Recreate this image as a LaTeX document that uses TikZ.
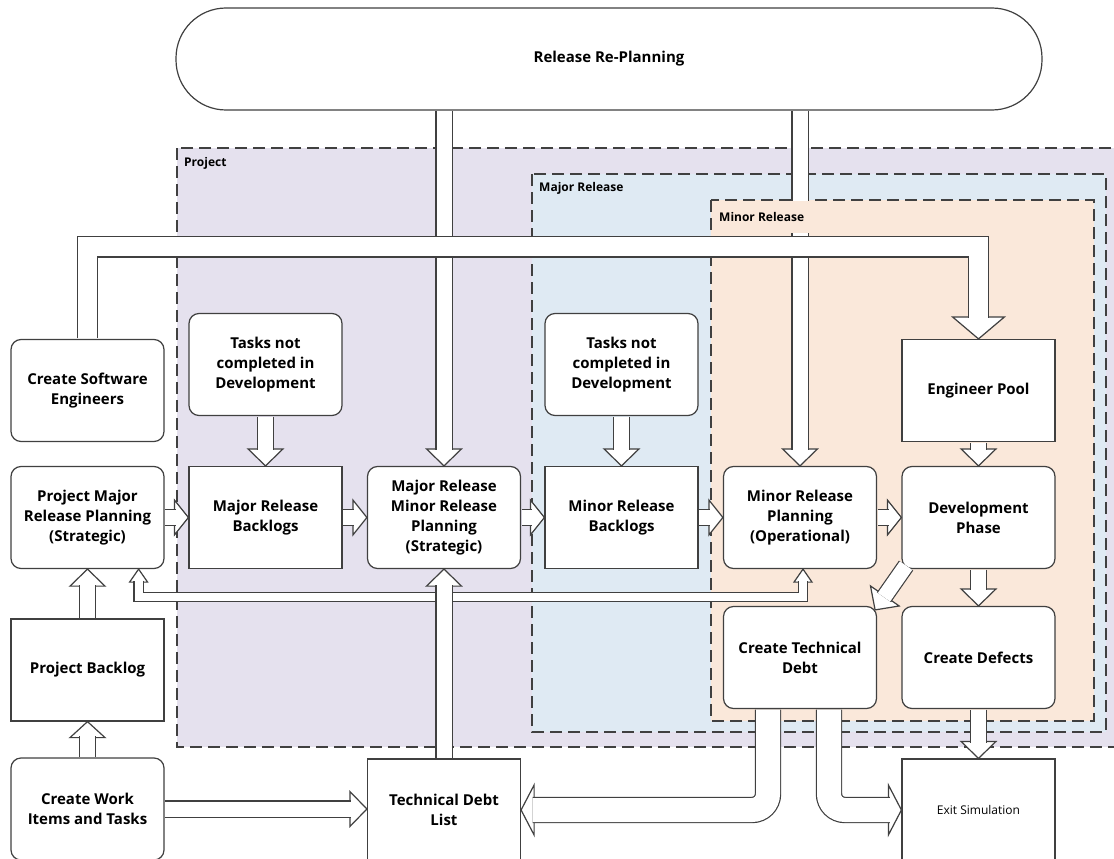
\documentclass[tikz,border=0pt]{standalone}
\usepackage{fontspec}
\setmainfont{Open Sans}
\usetikzlibrary{calc}

\definecolor{linecol}{RGB}{64,64,64}
\definecolor{projfill}{RGB}{229,225,238}
\definecolor{majfill}{RGB}{223,234,243}
\definecolor{minfill}{RGB}{250,232,218}

\newcommand{\boxfont}{\fontsize{15pt}{20pt}\selectfont\bfseries}
\newcommand{\regionfont}{\fontsize{12pt}{14pt}\selectfont\bfseries}
\newcommand{\smallboxfont}{\fontsize{12pt}{14pt}\selectfont}

\tikzset{
 box/.style={draw=linecol, line width=1.2pt, fill=white, minimum width=153pt, minimum height=102pt, align=center, font=\boxfont, inner sep=2pt},
 rbox/.style={box, rounded corners=10pt},
 region/.style={draw=linecol, line width=1.4pt, dash pattern=on 12pt off 6pt},
 regionlabel/.style={anchor=west, font=\regionfont, inner sep=0pt},
 shaft/.style={draw=linecol, line width=1.2pt, double=white, double distance=#1, shorten <=0.6pt, shorten >=-1.5pt},
 headtri/.style={draw=linecol, fill=white, line width=1.2pt, line join=miter},
}

% fat hollow arrow head: direction point, tip, head length, half width
\newcommand{\blockhead}[4]{%
  \coordinate (hb) at ($(#2)!#3!(#1)$);
  \draw[headtri] (#2) -- ($(hb)!#4!90:(#2)$) -- ($(hb)!#4!-90:(#2)$) -- cycle;
}
\newcommand{\blockarrow}[5]{%
  \blockhead{#1}{#2}{#3}{#4}
  \draw[shaft=#5] (#1) -- (hb);
}

\begin{document}
\begin{tikzpicture}[x=1pt,y=-1pt]
\useasboundingbox (0,0) rectangle (1114,859);
\clip (0,0) rectangle (1114,859);

%regions
\draw[region, fill=projfill] (177,148) rectangle (1125,747);
\draw[region, fill=majfill] (532,174) rectangle (1106,732);
\draw[region, fill=minfill] (711,200) rectangle (1094,721);
\node[regionlabel] (lproj) at (184,163) {Project};
\node[regionlabel] (lmaj) at (539,188) {Major Release};

\node[draw=linecol, line width=1.2pt, fill=white, rounded corners=50pt, minimum width=866pt, minimum height=102pt, font=\boxfont] (rrp) at (609,59) {Release Re-Planning};

\node[rbox] (cse) at (87.5,390.5) {Create Software\\Engineers};
\node[rbox] (tnc1) at (265.5,364.5) {Tasks not\\completed in\\Development};
\node[rbox] (tnc2) at (621.5,364.5) {Tasks not\\completed in\\Development};
\node[box] (ep) at (978.5,390.5) {Engineer Pool};

\node[rbox] (pmrp) at (87.5,517.5) {Project Major\\Release Planning\\(Strategic)};
\node[box] (mrb) at (265.5,517.5) {Major Release\\Backlogs};
\node[rbox] (mrmrp) at (444,517.5) {Major Release\\Minor Release\\Planning\\(Strategic)};
\node[box] (minrb) at (621.5,517.5) {Minor Release\\Backlogs};
\node[rbox] (mrp) at (800,517.5) {Minor Release\\Planning\\(Operational)};
\node[rbox] (dp) at (978.5,517.5) {Development\\Phase};

\node[box] (pb) at (87.5,670) {Project Backlog};
\node[rbox] (ctd) at (800,657.5) {Create Technical\\Debt};
\node[rbox] (cd) at (978.5,657.5) {Create Defects};

\node[rbox] (cwi) at (87.5,809) {Create Work\\Items and Tasks};
\node[box] (tdl) at (444,810) {Technical Debt\\List};
\node[box, font=\smallboxfont] (exit) at (978.5,810) {Exit Simulation};

%re-planning
\coordinate (rrpa) at (mrmrp.north |- rrp.south);
\coordinate (rrpb) at (mrp.north |- rrp.south);
\blockarrow{rrpa}{mrmrp.north}{17pt}{17.5pt}{15pt}
\blockarrow{rrpb}{mrp.north}{17pt}{17.5pt}{15pt}
\node[regionlabel, fill=minfill, inner xsep=7pt, minimum height=32pt] (lmin) at (712,216.5) {Minor Release};

%engineers
\blockhead{ep.north |- rrp.south}{ep.north}{22pt}{26pt}
\draw[shaft=19pt] (cse.north) -- ++(0,-92) -| (hb);

\blockarrow{pb.north}{pmrp.south}{17pt}{17.5pt}{15pt}
\blockarrow{cwi.north}{pb.south}{16pt}{17.5pt}{15pt}
\blockarrow{tnc1.south}{mrb.north}{17pt}{17.5pt}{15pt}
\blockarrow{tnc2.south}{minrb.north}{17pt}{17.5pt}{15pt}
\blockarrow{ep.south}{dp.north}{17pt}{17.5pt}{15pt}

\blockarrow{pmrp.east}{mrb.west}{14pt}{17.5pt}{15pt}
\blockarrow{mrb.east}{mrmrp.west}{14pt}{17.5pt}{15pt}
\blockarrow{mrmrp.east}{minrb.west}{14pt}{17.5pt}{15pt}
\blockarrow{minrb.east}{mrp.west}{14pt}{17.5pt}{15pt}
\blockarrow{mrp.east}{dp.west}{14pt}{17.5pt}{15pt}

\coordinate (dpc) at ($(dp.south west)+(5,-4)$);
\coordinate (ctdt) at ($(ctd.north east)+(-2,4)$);
\blockarrow{dpc}{ctdt}{17pt}{17.5pt}{15pt}
\blockarrow{dp.south}{cd.north}{17pt}{17.5pt}{15pt}
\blockarrow{cd.south}{exit.north}{17pt}{17.5pt}{15pt}

%technical debt
\coordinate (ctdl) at ($(ctd.south)+(-32,0)$);
\coordinate (ctdr) at ($(ctd.south)+(29,0)$);
\blockhead{ctd.south |- tdl.east}{tdl.east}{13pt}{25pt}
\draw[shaft=24pt, rounded corners=16pt] (ctdl) |- (hb);
\blockhead{ctd.south |- exit.west}{exit.west}{13pt}{25pt}
\draw[shaft=24pt, rounded corners=16pt] (ctdr) |- (hb);

%feedback
\coordinate (fbl) at ($(pmrp.south east)+(-26,0)$);
\coordinate (fbr) at ($(mrp.south)+(3,0)$);
\blockhead{fbl |- tdl.north}{fbl}{13pt}{9pt}
\coordinate (fblb) at (hb);
\blockhead{fbr |- tdl.north}{fbr}{13pt}{9pt}
\coordinate (fbrb) at (hb);
\draw[shaft=8pt, shorten <=-1.5pt] (fblb) -- ++(0,15) -| (fbrb);

\blockarrow{tdl.north}{mrmrp.south}{17pt}{17.5pt}{15pt}
\blockarrow{cwi.east}{cwi.east -| tdl.west}{17pt}{17.5pt}{15pt}
\end{tikzpicture}
\end{document}
